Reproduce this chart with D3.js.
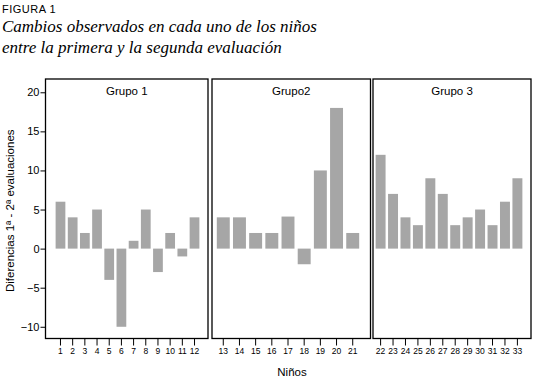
<!DOCTYPE html>
<html>
<head>
<meta charset="utf-8">
<script src="https://cdn.jsdelivr.net/npm/d3@7"></script>
<style>
  body { margin: 0; background: #fff; }
  svg { display: block; }
  .axis text { font-family: "Liberation Sans", Arial, sans-serif; fill: #000; }
  .axis path, .axis line { stroke: #000; }
</style>
</head>
<body>
<svg id="chart"></svg>
<script>
// data
const groupNames = ['Grupo 1', 'Grupo2', 'Grupo 3'];
const group1Kids = ['1','2','3','4','5','6','7','8','9','10','11','12'];
const group1Values = [6, 4, 2, 5, -4, -10, 1, 5, -3, 2, -1, 4];
const group2Kids = ['13','14','15','16','17','18','19','20','21'];
const group2Values = [4, 4, 2, 2, 4.1, -2, 10, 18, 2];
const group3Kids = ['22','23','24','25','26','27','28','29','30','31','32','33'];
const group3Values = [12, 7, 4, 3, 9, 7, 3, 4, 5, 3, 6, 9];
const yTicks = [-10, -5, 0, 5, 10, 15, 20];

const width = 534, height = 379;
const svg = d3.select('#chart').attr('width', width).attr('height', height);

const plotTop = 79, plotBottom = 338.5;

// panel frames and bar ranges
const panels = [
  {x0: 45.5, x1: 208, barRange: [55, 200], kids: group1Kids, values: group1Values},
  {x0: 212, x1: 370.5, barRange: [216, 360], kids: group2Kids, values: group2Values},
  {x0: 373, x1: 531, barRange: [375, 523], kids: group3Kids, values: group3Values}
];

const y = d3.scaleLinear().domain([-11.5, 21.7]).range([plotBottom, plotTop]);

// header
svg.append('text')
  .attr('x', 2).attr('y', 13)
  .style('font-family', '"Liberation Sans", Arial, sans-serif')
  .style('font-size', '11px')
  .style('letter-spacing', '0.5px')
  .text('FIGURA 1');

const titleLines = ['Cambios observados en cada uno de los niños', 'entre la primera y la segunda evaluación'];
svg.selectAll('.title')
  .data(titleLines)
  .join('text')
  .attr('class', 'title')
  .attr('x', 2)
  .attr('y', (d, i) => 32 + i * 21)
  .style('font-family', '"Liberation Serif", "Times New Roman", serif')
  .style('font-style', 'italic')
  .style('font-size', '17px')
  .text(d => d);

// y axis
const yAxis = d3.axisLeft(y).tickValues(yTicks).tickSize(5).tickPadding(1);
svg.append('g')
  .attr('class', 'axis')
  .attr('transform', `translate(${panels[0].x0},0)`)
  .call(yAxis)
  .call(g => g.select('.domain').remove())
  .call(g => g.selectAll('text').style('font-size', '11px'));

svg.append('text')
  .attr('transform', `translate(14,${(plotTop + plotBottom) / 2 + 2}) rotate(-90)`)
  .attr('text-anchor', 'middle')
  .style('font-family', '"Liberation Sans", Arial, sans-serif')
  .style('font-size', '11.5px')
  .text('Diferencias 1ª - 2ª evaluaciones');

panels.forEach((p, i) => {
  const x = d3.scaleBand().domain(p.kids).range(p.barRange).paddingInner(0.2).paddingOuter(0.05);
  const g = svg.append('g');

  g.selectAll('rect.bar')
    .data(p.kids.map((k, j) => ({kid: k, value: p.values[j]})))
    .join('rect')
    .attr('class', 'bar')
    .attr('x', d => x(d.kid))
    .attr('width', x.bandwidth())
    .attr('y', d => y(Math.max(0, d.value)))
    .attr('height', d => Math.abs(y(d.value) - y(0)))
    .attr('fill', '#a6a6a6');

  g.append('rect')
    .attr('x', p.x0).attr('y', plotTop)
    .attr('width', p.x1 - p.x0).attr('height', plotBottom - plotTop)
    .attr('fill', 'none').attr('stroke', '#000').attr('stroke-width', 1.3);

  g.append('text')
    .attr('x', (p.x0 + p.x1) / 2).attr('y', 95)
    .attr('text-anchor', 'middle')
    .style('font-family', '"Liberation Sans", Arial, sans-serif')
    .style('font-size', '11.5px')
    .text(groupNames[i]);

  const xAxis = d3.axisBottom(x).tickSize(7).tickPadding(2);
  g.append('g')
    .attr('class', 'axis')
    .attr('transform', `translate(0,${plotBottom})`)
    .call(xAxis)
    .call(a => a.select('.domain').remove())
    .call(a => a.selectAll('text').style('font-size', '8.5px'));
});

svg.append('text')
  .attr('x', 292).attr('y', 376)
  .attr('text-anchor', 'middle')
  .style('font-family', '"Liberation Sans", Arial, sans-serif')
  .style('font-size', '11.5px')
  .text('Niños');
</script>
</body>
</html>
